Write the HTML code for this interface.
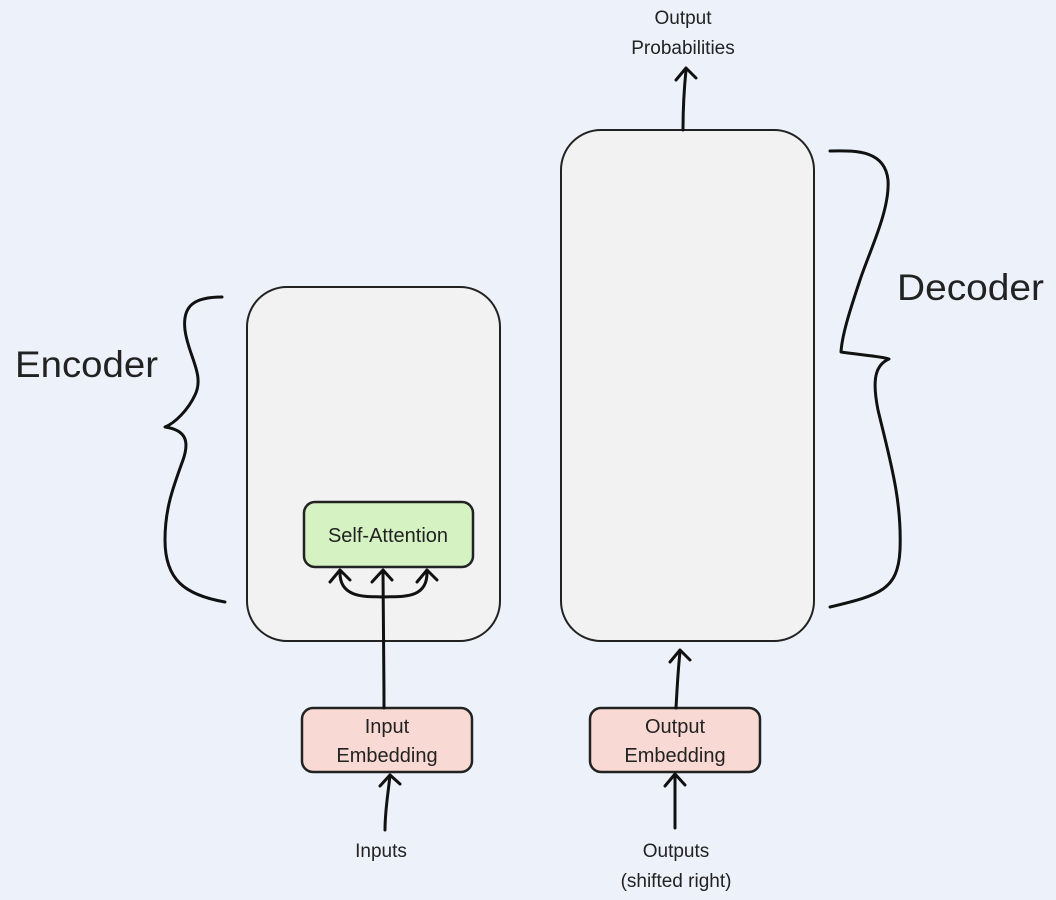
<!DOCTYPE html>
<html><head><meta charset="utf-8"><style>
html,body{margin:0;padding:0;background:#edf2fa;}
svg{display:block;}
text{font-family:"Liberation Sans","DejaVu Sans",sans-serif;fill:#222;}
</style></head><body>
<svg width="1056" height="900" viewBox="0 0 1056 900" xmlns="http://www.w3.org/2000/svg">
<rect width="1056" height="900" fill="#edf2fa"/>
<g fill="none" stroke="#111" stroke-width="3" stroke-linecap="round" stroke-linejoin="round">
<!-- boxes -->
<rect x="247" y="287" width="253" height="354" rx="40" fill="#f2f2f2" stroke="#222" stroke-width="2"/>
<rect x="561" y="130" width="253" height="511" rx="40" fill="#f2f2f2" stroke="#222" stroke-width="2"/>
<rect x="304" y="502" width="169" height="65" rx="11" fill="#d5f3c2" stroke="#222" stroke-width="2.5"/>
<rect x="302" y="708" width="170" height="64" rx="11" fill="#f9d9d3" stroke="#222" stroke-width="2.5"/>
<rect x="590" y="708" width="170" height="64" rx="11" fill="#f9d9d3" stroke="#222" stroke-width="2.5"/>
<!-- encoder brace -->
<path d="M222,297 C195,297 182,305 185,330 C188,355 205,375 195,395 C188,410 175,423 165,427 C185,430 190,440 183,460 C172,490 165,510 165,540 C165,580 185,595 225,602"/>
<!-- decoder brace -->
<path d="M830,151 C860,150 885,152 888,180 C890,210 870,250 860,280 C850,310 842,335 841,352 C860,355 880,356 889,359 C875,365 872,380 878,410 C890,460 902,500 900,550 C898,590 880,595 830,607"/>
<!-- arrows -->
<path d="M384,708 C384,660 383,610 383,572"/>
<path d="M372,582 L383,570 L392,580"/>
<path d="M383,597 C370,596 340,600 340,573"/>
<path d="M330,582 L340,570 L350,580"/>
<path d="M383,597 C400,596 427,600 427,573"/>
<path d="M417,582 L427,570 L437,580"/>
<path d="M385,830 C385,810 388,795 390,775"/>
<path d="M380,786 L390,775 L400,784"/>
<path d="M675,828 L675,776"/>
<path d="M665,786 L675,774 L685,785"/>
<path d="M676,708 C677,690 678,670 680,652"/>
<path d="M670,662 L680,650 L690,660"/>
<path d="M683,130 C683,110 684,90 686,70"/>
<path d="M676,80 L686,68 L696,78"/>
</g>
<text x="15" y="377" font-size="37" textLength="143" lengthAdjust="spacingAndGlyphs">Encoder</text>
<text x="897" y="300" font-size="37" textLength="147" lengthAdjust="spacingAndGlyphs">Decoder</text>
<text x="388" y="542" font-size="20" text-anchor="middle" fill="#1a3a1a">Self-Attention</text>
<text x="387" y="733" font-size="20" text-anchor="middle">Input</text>
<text x="387" y="762" font-size="20" text-anchor="middle">Embedding</text>
<text x="675" y="733" font-size="20" text-anchor="middle">Output</text>
<text x="675" y="762" font-size="20" text-anchor="middle">Embedding</text>
<text x="381" y="857" font-size="19" text-anchor="middle">Inputs</text>
<text x="676" y="857" font-size="19" text-anchor="middle">Outputs</text>
<text x="676" y="887" font-size="19" text-anchor="middle">(shifted right)</text>
<text x="683" y="24" font-size="19" text-anchor="middle">Output</text>
<text x="683" y="54" font-size="19" text-anchor="middle">Probabilities</text>
</svg>
</body></html>
